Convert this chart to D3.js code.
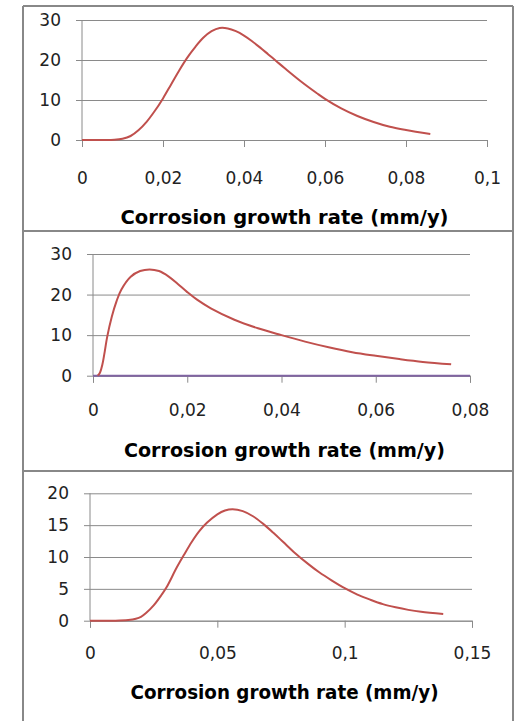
<!DOCTYPE html>
<html>
<head>
<meta charset="utf-8">
<script src="https://cdn.jsdelivr.net/npm/d3@7"></script>
<style>
  body { margin: 0; background: #fff; }
  svg { display: block; }
</style>
</head>
<body>
<div id="chart"></div>
<script>
// Chart values.
var xTitle = "Corrosion growth rate (mm/y)";

// Panel 1
var rate1 = [0, 0.005, 0.008, 0.010, 0.012, 0.014, 0.016, 0.018, 0.020, 0.022, 0.024, 0.026, 0.028, 0.030, 0.032, 0.034, 0.036, 0.038, 0.040, 0.042, 0.044, 0.046, 0.048, 0.050, 0.054, 0.058, 0.060, 0.064, 0.068, 0.072, 0.076, 0.080, 0.086];
var dens1 = [0, 0, 0.05, 0.3, 1.0, 2.5, 4.6, 7.3, 10.4, 13.9, 17.4, 20.6, 23.3, 25.6, 27.2, 28, 27.9, 27.2, 26.1, 24.7, 23.1, 21.4, 19.7, 18.0, 14.7, 11.7, 10.3, 7.9, 6.0, 4.5, 3.3, 2.5, 1.5];
var xTicks1 = [0, 0.02, 0.04, 0.06, 0.08, 0.1];
var yTicks1 = [0, 10, 20, 30];

// Panel 2
var rate2 = [0.001, 0.0015, 0.002, 0.0025, 0.003, 0.004, 0.005, 0.006, 0.008, 0.010, 0.012, 0.014, 0.016, 0.018, 0.020, 0.022, 0.025, 0.030, 0.035, 0.040, 0.045, 0.050, 0.055, 0.060, 0.065, 0.070, 0.076];
var dens2 = [0, 0.8, 2.8, 6, 9.5, 14.6, 18.4, 21.2, 24.4, 25.8, 26.2, 25.8, 24.5, 22.6, 20.6, 18.8, 16.6, 13.8, 11.7, 10, 8.4, 7.0, 5.8, 4.9, 4.1, 3.4, 2.8];
var zeroRate2 = [0, 0.08];
var zeroDens2 = [0, 0];
var xTicks2 = [0, 0.02, 0.04, 0.06, 0.08];
var yTicks2 = [0, 10, 20, 30];

// Panel 3
var rate3 = [0, 0.010, 0.015, 0.018, 0.020, 0.022, 0.025, 0.028, 0.030, 0.034, 0.037, 0.040, 0.043, 0.046, 0.050, 0.053, 0.056, 0.060, 0.064, 0.068, 0.072, 0.076, 0.080, 0.086, 0.090, 0.095, 0.100, 0.105, 0.110, 0.115, 0.120, 0.125, 0.130, 0.1387];
var dens3 = [0, 0, 0.1, 0.3, 0.6, 1.2, 2.4, 4.0, 5.2, 8.3, 10.4, 12.4, 14.1, 15.4, 16.7, 17.3, 17.5, 17.2, 16.4, 15.2, 13.8, 12.3, 10.8, 8.8, 7.6, 6.3, 5.1, 4.1, 3.3, 2.6, 2.1, 1.7, 1.4, 1.05];
var xTicks3 = [0, 0.05, 0.1, 0.15];
var yTicks3 = [0, 5, 10, 15, 20];

// Page and panel geometry (pixels).
var width = 518;
var height = 721;
var frame = { left: 23, right: 513, top: 6, dividers: [231, 471] };

var panels = [
  { rate: rate1, dens: dens1, xTicks: xTicks1, yTicks: yTicks1,
    x0: 82, x1: 487, y0: 140, y1: 20, labelDy: 38, titleY: 217, titleLen: 328 },
  { rate: rate2, dens: dens2, xTicks: xTicks2, yTicks: yTicks2,
    x0: 93, x1: 470, y0: 375.7, y1: 254, labelDy: 34, titleY: 450, titleLen: 321,
    zero: true },
  { rate: rate3, dens: dens3, xTicks: xTicks3, yTicks: yTicks3,
    x0: 90, x1: 472, y0: 620.7, y1: 493.3, labelDy: 32.5, titleY: 692, titleLen: 308 }
];

var red = "#c0504d";
var purple = "#8064a2";
var grid = "#8a8a8a";

// Excel writes decimals with a comma.
var fmt = function(v) {
  return String(v).replace(".", ",");
};

var svg = d3.select("#chart").append("svg")
  .attr("width", width)
  .attr("height", height);

svg.append("rect")
  .attr("width", width)
  .attr("height", height)
  .attr("fill", "#fff");

// Outer frame and dividers between the three charts.
var frameG = svg.append("g")
  .attr("stroke", "#888")
  .attr("stroke-width", 2)
  .attr("fill", "none");
frameG.append("line").attr("x1", frame.left).attr("x2", frame.left).attr("y1", frame.top).attr("y2", height);
frameG.append("line").attr("x1", frame.right).attr("x2", frame.right).attr("y1", frame.top).attr("y2", height);
frameG.append("line").attr("x1", frame.left).attr("x2", frame.right).attr("y1", frame.top).attr("y2", frame.top);
frame.dividers.forEach(function(y) {
  frameG.append("line").attr("x1", frame.left).attr("x2", frame.right).attr("y1", y).attr("y2", y);
});

function drawPanel(p) {
  var xDomain = d3.extent(p.xTicks);
  var yDomain = d3.extent(p.yTicks);

  var x = d3.scaleLinear().domain(xDomain).range([p.x0, p.x1]);
  var y = d3.scaleLinear().domain(yDomain).range([p.y0, p.y1]);

  var g = svg.append("g");

  // Horizontal gridlines with the little tick to the left.
  g.append("g")
    .attr("transform", "translate(" + p.x0 + ",0)")
    .call(d3.axisLeft(y)
      .tickValues(p.yTicks)
      .tickSize(-(p.x1 - p.x0))
      .tickPadding(21)
      .tickFormat(fmt))
    .call(function(a) {
      a.select(".domain").remove();
      a.selectAll(".tick line")
        .attr("stroke", grid)
        .attr("x2", p.x1 - p.x0)
        .attr("x1", -6);
      a.selectAll(".tick text")
        .attr("x", -21)
        .attr("fill", "#222")
        .style("font-family", "DejaVu Sans")
        .style("font-size", "17px");
    });

  // Vertical axis line.
  g.append("line")
    .attr("x1", p.x0).attr("x2", p.x0)
    .attr("y1", p.y1).attr("y2", p.y0)
    .attr("stroke", grid);

  // Horizontal axis with ticks pointing down.
  g.append("g")
    .attr("transform", "translate(0," + p.y0 + ")")
    .call(d3.axisBottom(x)
      .tickValues(p.xTicks)
      .tickSize(7)
      .tickFormat(fmt))
    .call(function(a) {
      a.select(".domain").attr("stroke", grid);
      a.selectAll(".tick line").attr("stroke", grid);
      a.selectAll(".tick text")
        .attr("y", p.labelDy)
        .attr("dy", "0.35em")
        .attr("fill", "#222")
        .style("font-family", "DejaVu Sans")
        .style("font-size", "17px");
    });

  var line = d3.line()
    .x(function(d) { return x(d[0]); })
    .y(function(d) { return y(d[1]); })
    .curve(d3.curveCatmullRom.alpha(0.5));

  if (p.zero) {
    g.append("path")
      .datum(d3.zip(zeroRate2, zeroDens2))
      .attr("d", line)
      .attr("fill", "none")
      .attr("stroke", purple)
      .attr("stroke-width", 2);
  }

  g.append("path")
    .datum(d3.zip(p.rate, p.dens))
    .attr("d", line)
    .attr("fill", "none")
    .attr("stroke", red)
    .attr("stroke-width", 2);

  // Axis title.
  g.append("text")
    .attr("x", 284.5)
    .attr("y", p.titleY)
    .attr("dy", "0.35em")
    .attr("text-anchor", "middle")
    .attr("textLength", p.titleLen)
    .attr("lengthAdjust", "spacingAndGlyphs")
    .style("font-family", "DejaVu Sans")
    .style("font-weight", "bold")
    .style("font-size", "19px")
    .attr("fill", "#000")
    .text(xTitle);
}

panels.forEach(drawPanel);
</script>
</body>
</html>
